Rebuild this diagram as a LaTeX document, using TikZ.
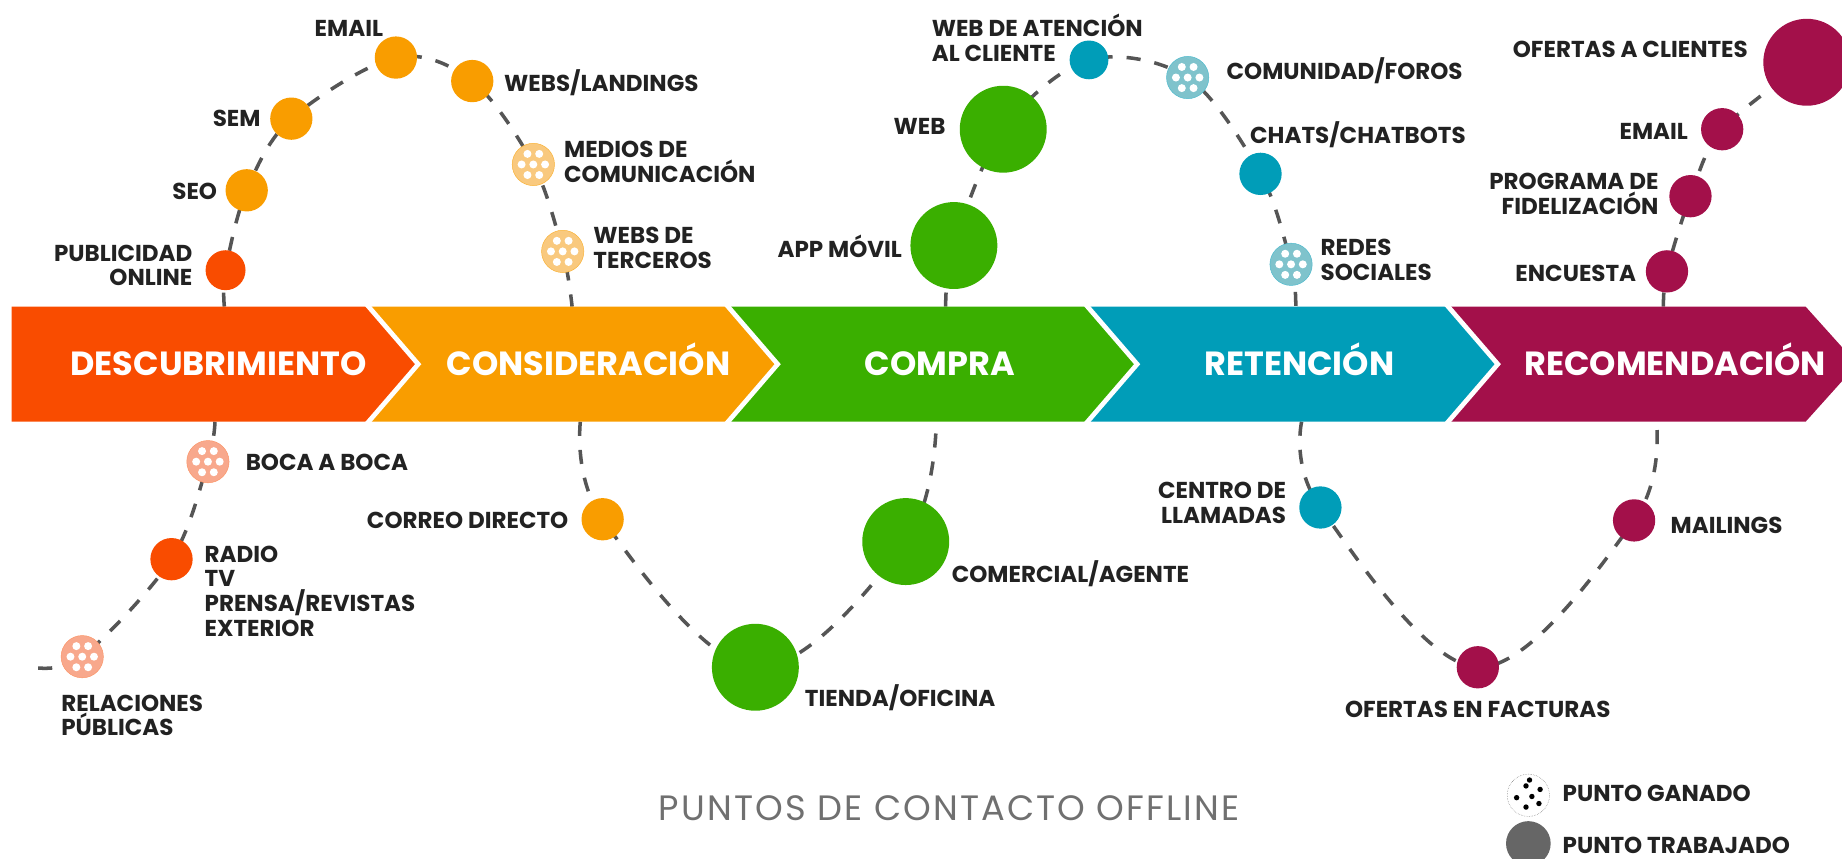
\documentclass[tikz,border=0pt]{standalone}
\usepackage{fontspec}
\setmainfont{Poppins}
\usetikzlibrary{backgrounds}
\definecolor{cRed}{HTML}{F94C00}
\definecolor{cRedL}{HTML}{F8A88C}
\definecolor{cOra}{HTML}{F99D00}
\definecolor{cOraL}{HTML}{F9C97E}
\definecolor{cGre}{HTML}{3AAF00}
\definecolor{cTea}{HTML}{009DB8}
\definecolor{cTeaL}{HTML}{7FC3CC}
\definecolor{cMag}{HTML}{A3104A}
\definecolor{dashc}{HTML}{555555}
\definecolor{labelc}{HTML}{222222}
\definecolor{titlec}{HTML}{707070}
\definecolor{legc}{HTML}{666666}
\newcommand\hexdots[3]{\foreach \dx/\dy in {-5/-9,5/-9,-10/0,0/0,10/0,-5/9,5/9} \fill[#2] ([shift={(\dx pt,\dy pt)}]#1) circle (#3);}
\tikzset{
  pt/.style={circle, inner sep=0pt, minimum size=36pt},
  bigpt/.style={circle, inner sep=0pt, minimum size=74pt},
  lbl/.style={font=\bfseries\fontsize{19.6}{21}\selectfont, text=labelc, inner sep=0pt},
  stage/.style={font=\bfseries\fontsize{28.5}{30}\selectfont, text=white, inner sep=0pt, anchor=base},
  route/.style={draw=dashc, line width=3pt, dash pattern=on 12pt off 12pt},
  gap/.style={draw=white, line width=4pt},
}
\begin{document}
\begin{tikzpicture}[x=1pt,y=-1pt]
\useasboundingbox (0,0) rectangle (1568,731);
\clip (0,0) rectangle (1568,731);
% ---- stage band ----
\fill[cRed] (10,261) -- (312,261) -- (356,310) -- (312,359) -- (10,359) -- cycle;
\fill[cOra] (312,261) -- (618,261) -- (662,310) -- (618,359) -- (312,359) -- (356,310) -- cycle;
\fill[cGre] (618,261) -- (924,261) -- (968,310) -- (924,359) -- (618,359) -- (662,310) -- cycle;
\fill[cTea] (924,261) -- (1231,261) -- (1275,310) -- (1231,359) -- (924,359) -- (968,310) -- cycle;
\fill[cMag] (1231,261) -- (1537,261) -- (1581,310) -- (1537,359) -- (1231,359) -- (1275,310) -- cycle;
\foreach \r in {312,618,924,1231} \draw[gap] (\r,259) -- (\r+44,310) -- (\r,361);
\node[stage] (s1) at (186,320) {DESCUBRIMIENTO};
\node[stage] (s2) at (501,320) {CONSIDERACIÓN};
\node[stage] (s3) at (800,320) {COMPRA};
\node[stage] (s4) at (1106,320) {RETENCIÓN};
\node[stage] (s5) at (1426,320) {RECOMENDACIÓN};
% ---- path end points on the band ----
\coordinate (a0) at (191,261);
\coordinate (a1) at (487,261);
\coordinate (b0) at (805,261);
\coordinate (b1) at (1103,261);
\coordinate (c0) at (1416,261);
\coordinate (d0) at (183,359);
\coordinate (d1) at (28,568);
\coordinate (e0) at (494,359);
\coordinate (e1) at (797,359);
\coordinate (f0) at (1108,359);
\coordinate (f1) at (1410,359);
% ---- touch points ----
\node[pt, minimum size=34pt, fill=cRed] (pub) at (192,230) {};
\node[pt, fill=cOra] (seo) at (210,162) {};
\node[pt, fill=cOra] (sem) at (248,101) {};
\node[pt, fill=cOra] (em1) at (337,49) {};
\node[pt, fill=cOra] (wl) at (402,69) {};
\node[pt, fill=cOraL, draw=cOra!80, thin] (med) at (454,140) {};
\node[pt, fill=cOraL, draw=cOra!80, thin] (wt) at (479,214) {};
\hexdots{med}{white}{3.4pt}
\hexdots{wt}{white}{3.4pt}

\node[bigpt, fill=cGre] (app) at (812,209) {};
\node[bigpt, fill=cGre] (web) at (854,110) {};
\node[pt, minimum size=33pt, fill=cTea] (atc) at (927,51) {};
\node[pt, fill=cTeaL, draw=cTea!70, thin] (com) at (1011,66) {};
\node[pt, fill=cTea] (cha) at (1073,148) {};
\node[pt, fill=cTeaL, draw=cTea!70, thin] (red) at (1099,225) {};
\hexdots{com}{white}{3.4pt}
\hexdots{red}{white}{3.4pt}

\node[pt, fill=cMag] (enc) at (1419,231) {};
\node[pt, fill=cMag] (prg) at (1439,167) {};
\node[pt, fill=cMag] (em2) at (1466,110) {};
\node[bigpt, fill=cMag] (ofc) at (1538,53) {};

\node[pt, fill=cRedL, draw=cRed!60, thin] (boc) at (177,393) {};
\node[pt, fill=cRed] (rad) at (146,476) {};
\node[pt, fill=cRedL, draw=cRed!60, thin] (rel) at (70,559) {};
\hexdots{boc}{white}{3.4pt}
\hexdots{rel}{white}{3.4pt}

\node[pt, fill=cOra] (cor) at (513,442) {};
\node[bigpt, fill=cGre] (tie) at (643,568) {};
\node[bigpt, fill=cGre] (cme) at (771,461) {};

\node[pt, fill=cTea] (cen) at (1124,432) {};
\node[pt, fill=cMag] (ofe) at (1258,568) {};
\node[pt, fill=cMag] (mai) at (1391,443) {};

% ---- dashed routes (behind the points) ----
\begin{scope}[on background layer]
\draw[route] plot[smooth, tension=0.55] coordinates {(a0) (pub) (seo) (sem) (em1) (wl) (med) (wt) (a1)};
\draw[route] plot[smooth, tension=0.55] coordinates {(b0) (app) (web) (atc) (com) (cha) (red) (b1)};
\draw[route] plot[smooth, tension=0.55] coordinates {(c0) (enc) (prg) (em2) (ofc)};
\draw[route] plot[smooth, tension=0.55] coordinates {(d0) (boc) (rad) (rel) (d1)};
\draw[route] plot[smooth, tension=0.6] coordinates {(e0) (cor) (tie) (cme) (e1)};
\draw[route] plot[smooth, tension=0.6] coordinates {(f0) (cen) (ofe) (mai) (f1)};
\end{scope}

% ---- labels ----
\node[lbl, anchor=east, align=right] (lpub) at (164,226) {PUBLICIDAD\\ONLINE};
\node[lbl, anchor=east] (lseo) at (185,163) {SEO};
\node[lbl, anchor=east] (lsem) at (222,101) {SEM};
\node[lbl] (lem1) at (297,24) {EMAIL};
\node[lbl, anchor=west] (lwl) at (429,70) {WEBS/LANDINGS};
\node[lbl, anchor=west, align=left] (lmed) at (480,138) {MEDIOS DE\\COMUNICACIÓN};
\node[lbl, anchor=west, align=left] (lwt) at (505,211) {WEBS DE\\TERCEROS};

\node[lbl, anchor=west, align=left] (latc) at (793,32) {WEB DE ATENCIÓN\\AL CLIENTE};
\node[lbl, anchor=east] (lweb) at (805,108) {WEB};
\node[lbl, anchor=east] (lapp) at (768,210) {APP MÓVIL};
\node[lbl, anchor=west] (lcom) at (1044,60) {COMUNIDAD/FOROS};
\node[lbl, anchor=west] (lcha) at (1064,115) {CHATS/CHATBOTS};
\node[lbl, anchor=west, align=left] (lred) at (1124,221) {REDES\\SOCIALES};

\node[lbl, anchor=east] (lofc) at (1488,42) {OFERTAS A CLIENTES};
\node[lbl, anchor=east] (lem2) at (1437,112) {EMAIL};
\node[lbl, anchor=east, align=right] (lprg) at (1412,165) {PROGRAMA DE\\FIDELIZACIÓN};
\node[lbl, anchor=east] (lenc) at (1393,233) {ENCUESTA};

\node[lbl, anchor=west] (lboc) at (209,394) {BOCA A BOCA};
\node[lbl, anchor=west, align=left] (lrad) at (174,503) {RADIO\\TV\\PRENSA/REVISTAS\\EXTERIOR};
\node[lbl, anchor=west, align=left] (lrel) at (52,609) {RELACIONES\\PÚBLICAS};
\node[lbl, anchor=east] (lcor) at (484,443) {CORREO DIRECTO};
\node[lbl, anchor=west] (ltie) at (685,594) {TIENDA/OFICINA};
\node[lbl, anchor=west] (lcme) at (810,488) {COMERCIAL/AGENTE};
\node[lbl, anchor=east, align=right] (lcen) at (1095,428) {CENTRO DE\\LLAMADAS};
\node[lbl, anchor=west] (lmai) at (1422,447) {MAILINGS};
\node[lbl] (lofe) at (1258,604) {OFERTAS EN FACTURAS};

% ---- title and legend ----
\node[font=\addfontfeatures{LetterSpace=6}\fontsize{30}{32}\selectfont, text=titlec, inner sep=0pt] (title) at (808,688) {PUNTOS DE CONTACTO OFFLINE};
\node[pt, fill=white, draw=legc, densely dotted, thin] (lg1) at (1301,677) {};
\foreach \dx/\dy in {-2/-10,9/-7,-10/-2,3/-1,-2/8,10/5,1/13} \fill[black] ([shift={(\dx pt,\dy pt)}]lg1) circle (2.3pt);
\node[pt, minimum size=38pt, fill=legc] (lg2) at (1301,718) {};
\node[lbl, anchor=west] (tlg1) at (1330,675) {PUNTO GANADO};
\node[lbl, anchor=west] (tlg2) at (1330,720) {PUNTO TRABAJADO};
\end{tikzpicture}
\end{document}
